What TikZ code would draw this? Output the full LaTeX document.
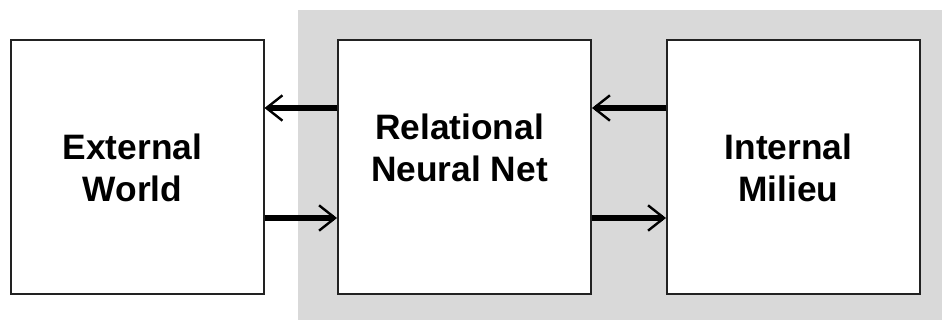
\documentclass[tikz,border=0pt]{standalone}
\usepackage{fontspec}
\setmainfont{Liberation Sans}
\usetikzlibrary{arrows.meta}
\definecolor{panelgray}{HTML}{D9D9D9}
\definecolor{edgegray}{HTML}{222222}
\begin{document}
\begin{tikzpicture}[x=0.75pt,y=-0.75pt,
  block/.style={draw=edgegray, line width=1.5pt, fill=white, inner sep=0pt,
    minimum width=189.75pt, minimum height=190.5pt},
  caption/.style={align=center, inner sep=0pt,
    font=\fontsize{26.5}{31.5}\selectfont\bfseries},
  flow/.style={line width=5pt,
    -{Straight Barb[length=12pt, width=19pt, line width=1.8pt]}}]
  \useasboundingbox (0,0) rectangle (942,320);
  % shaded region behind the network and the internal milieu
  \fill[panelgray] (298,10) rectangle (942,320);
  % the three blocks
  \node[block] (ext) at (137,167) {};
  \node[block] (net) at (464.5,167) {};
  \node[block] (mil) at (793.5,167) {};
  % block titles
  \node[caption] (extT) at (132.5,168) {External\\World};
  \node[caption] (netT) at (459.5,148) {Relational\\Neural Net};
  \node[caption] (milT) at (788.5,167.5) {Internal\\Milieu};
  % signal flow between blocks
  \draw[flow] ([yshift=44.25pt]net.west) -- ([yshift=44.25pt]ext.east);
  \draw[flow] ([yshift=-38.25pt]ext.east) -- ([yshift=-38.25pt]net.west);
  \draw[flow] ([yshift=44.25pt]mil.west) -- ([yshift=44.25pt]net.east);
  \draw[flow] ([yshift=-38.25pt]net.east) -- ([yshift=-38.25pt]mil.west);
\end{tikzpicture}
\end{document}
